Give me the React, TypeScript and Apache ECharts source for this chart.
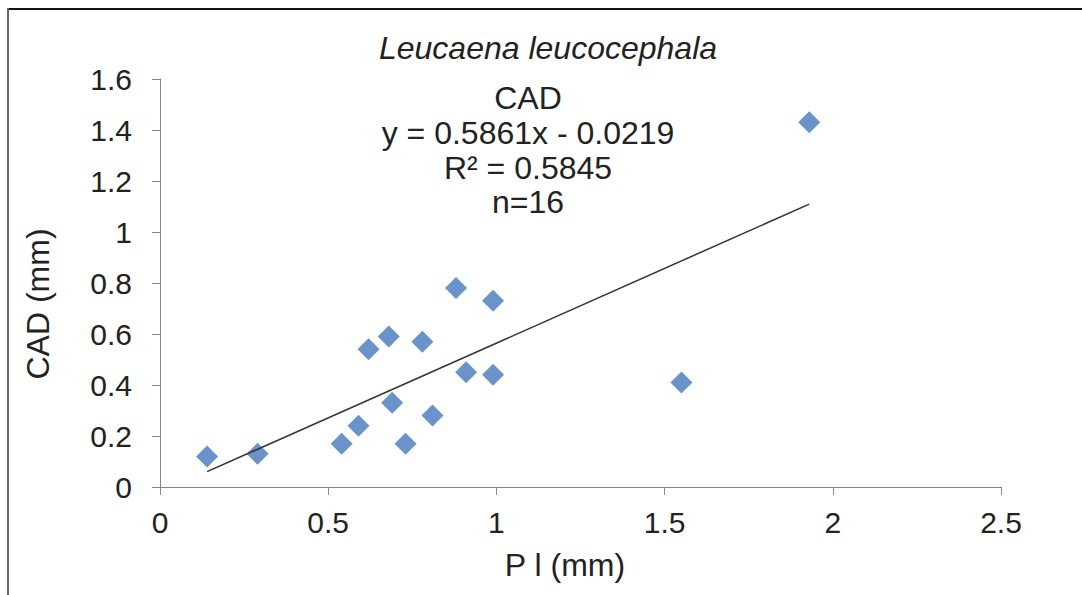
import { useEffect, useRef } from "react";
import * as echarts from "echarts";

// P l (mm) against CAD (mm) for Leucaena leucocephala samples
const plValues = [0.14, 0.29, 0.54, 0.59, 0.62, 0.68, 0.69, 0.73, 0.78, 0.81, 0.88, 0.91, 0.99, 0.99, 1.55, 1.93];
const cadValues = [0.12, 0.13, 0.17, 0.24, 0.54, 0.59, 0.33, 0.17, 0.57, 0.28, 0.78, 0.45, 0.73, 0.44, 0.41, 1.43];

// Linear trend reported on the chart
const slope = 0.5861;
const intercept = -0.0219;
const rSquared = 0.5845;

const xAxisRange = { min: 0, max: 2.5, step: 0.5 };
const yAxisRange = { min: 0, max: 1.6, step: 0.2 };

const FONT = "'Liberation Sans', Arial, sans-serif";
const TEXT = "#222222";
const AXIS = "#868686";

export default function App() {
  const ref = useRef<HTMLDivElement>(null);

  useEffect(() => {
    if (!ref.current) return;
    const chart = echarts.init(ref.current, null, { renderer: "svg" });

    const points = plValues.map((x, i) => [x, cadValues[i]]);
    const xMin = Math.min(...plValues);
    const xMax = Math.max(...plValues);
    const trend = [xMin, xMax].map((x) => [x, slope * x + intercept]);
    const n = plValues.length;

    const eqLines = [
      { text: "CAD", y: 98 },
      { text: `y = ${slope}x - ${Math.abs(intercept)}`, y: 133 },
      { text: `R² = ${rSquared}`, y: 168 },
      { text: `n=${n}`, y: 202 },
    ];

    chart.setOption({
      animation: false,
      backgroundColor: "#ffffff",
      grid: { left: 160, right: 81, top: 79, bottom: 108, containLabel: false },
      xAxis: {
        type: "value",
        min: xAxisRange.min,
        max: xAxisRange.max,
        interval: xAxisRange.step,
        splitLine: { show: false },
        axisLine: { show: true, lineStyle: { color: AXIS, width: 1 } },
        axisTick: { show: true, length: 8, lineStyle: { color: AXIS } },
        axisLabel: { color: TEXT, fontSize: 30, fontFamily: FONT, margin: 20 },
      },
      yAxis: {
        type: "value",
        min: yAxisRange.min,
        max: yAxisRange.max,
        interval: yAxisRange.step,
        splitLine: { show: false },
        axisLine: { show: true, lineStyle: { color: AXIS, width: 1 } },
        axisTick: { show: true, length: 8, lineStyle: { color: AXIS } },
        axisLabel: { color: TEXT, fontSize: 30, fontFamily: FONT, margin: 28 },
      },
      series: [
        {
          type: "scatter",
          data: points,
          symbol: "diamond",
          symbolSize: [22, 22],
          itemStyle: { color: "#4579bc" },
          z: 2,
        },
        {
          type: "line",
          data: trend,
          showSymbol: false,
          symbol: "none",
          lineStyle: { color: "#333333", width: 1.5 },
          z: 3,
        },
      ],
      graphic: [
        {
          type: "line",
          shape: { x1: 7, y1: 9, x2: 1082, y2: 9 },
          style: { stroke: "#111111", lineWidth: 2 },
        },
        {
          type: "line",
          shape: { x1: 8, y1: 8, x2: 8, y2: 595 },
          style: { stroke: "#666666", lineWidth: 2 },
        },
        {
          type: "text",
          x: 548,
          y: 48,
          style: {
            text: "Leucaena leucocephala",
            fontSize: 32,
            fontStyle: "italic",
            fontFamily: FONT,
            fill: TEXT,
            textAlign: "center",
            textVerticalAlign: "middle",
          },
        },
        ...eqLines.map((l) => ({
          type: "text",
          x: 528,
          y: l.y,
          style: {
            text: l.text,
            fontSize: 32,
            fontFamily: FONT,
            fill: TEXT,
            textAlign: "center",
            textVerticalAlign: "middle",
          },
        })),
        {
          type: "text",
          x: 565,
          y: 565,
          style: {
            text: "P l (mm)",
            fontSize: 32,
            fontFamily: FONT,
            fill: TEXT,
            textAlign: "center",
            textVerticalAlign: "middle",
          },
        },
        {
          type: "text",
          x: 38,
          y: 304,
          rotation: Math.PI / 2,
          style: {
            text: "CAD (mm)",
            fontSize: 32,
            fontFamily: FONT,
            fill: TEXT,
            textAlign: "center",
            textVerticalAlign: "middle",
          },
        },
      ],
    });

    return () => chart.dispose();
  }, []);

  return (
    <div
      ref={ref}
      style={{ position: "fixed", left: 0, top: 0, width: 1082, height: 595, background: "#fff" }}
    />
  );
}
